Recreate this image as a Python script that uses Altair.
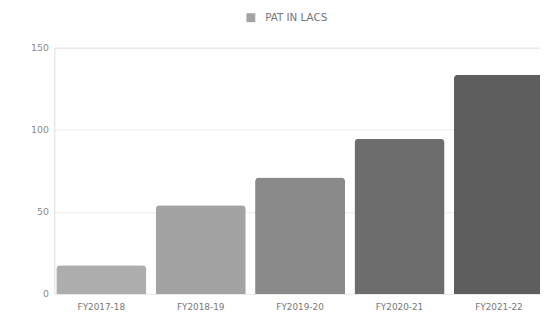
import altair as alt
import pandas as pd

years = ["FY2017-18", "FY2018-19", "FY2019-20", "FY2020-21", "FY2021-22"]
pat = [17.5, 54, 71, 94.5, 133.5]
colors = ["#adadad", "#a3a3a3", "#8a8a8a", "#6d6d6d", "#5e5e5e"]
series = "PAT IN LACS"

df = pd.DataFrame({"year": years, "pat": pat})

FONT = "DejaVu Sans"

chart = alt.Chart(df).mark_bar(
    cornerRadiusTopLeft=4, cornerRadiusTopRight=4
).encode(
    x=alt.X("year:N", sort=years, title=None,
            scale=alt.Scale(paddingInner=0.094, paddingOuter=0.02),
            axis=alt.Axis(labelAngle=0, ticks=False, domain=False, grid=False, labelFontSize=9,
                          labelColor="#777777", labelPadding=9, labelFont=FONT)),
    y=alt.Y("pat:Q", title=None,
            scale=alt.Scale(domain=[0, 150]),
            axis=alt.Axis(values=[0, 50, 100, 150], ticks=False, domain=False,
                          labelFontSize=9.5, labelColor="#8a8a8a", labelPadding=6,
                          gridColor="#ececec", labelFont=FONT)),
    color=alt.Color("year:N", sort=years, scale=alt.Scale(domain=years, range=colors),
                    legend=alt.Legend(title=None, orient="none", legendX=194, legendY=-36,
                                      values=[years[1]], labelExpr="'" + series + "'",
                                      symbolType="square", symbolSize=81, labelOffset=9,
                                      labelFontSize=10.5, labelColor="#777777", labelFont=FONT)),
).properties(
    width=499, height=250,
    autosize=alt.AutoSizeParams(type="none"),
    padding={"left": 47, "top": 38, "right": -6, "bottom": 22},
).configure_view(stroke=None).configure(background="white")

chart.save("out.html", embed_options={"renderer": "svg", "actions": False})
